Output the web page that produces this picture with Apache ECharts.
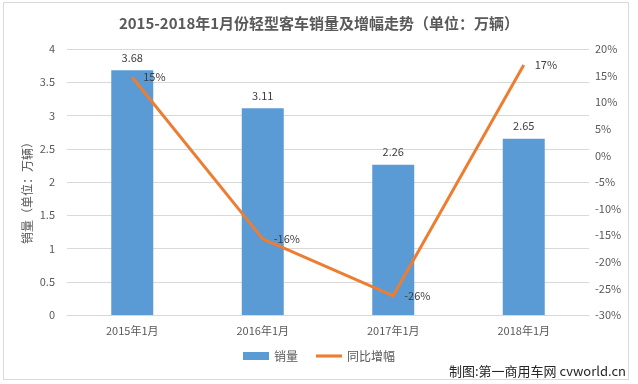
<!DOCTYPE html>
<html><head><meta charset="utf-8">
<script src="https://cdn.jsdelivr.net/npm/echarts@6/dist/echarts.min.js"></script>
<style>html,body{margin:0;padding:0;background:#fff}#c{width:638px;height:384px}</style>
</head><body><div id="c"></div>
<script>
var categories = ['2015年1月', '2016年1月', '2017年1月', '2018年1月'];
var sales = [3.68, 3.11, 2.26, 2.65];
var growth = [14.7, -15.7, -26.4, 17.0];
var leftTicks = [0, 0.5, 1, 1.5, 2, 2.5, 3, 3.5, 4];
var rightTicks = [-30, -25, -20, -15, -10, -5, 0, 5, 10, 15, 20];
var leftAxisName = '销量（单位：万辆）';

var font = 'Microsoft YaHei, "Noto Sans CJK SC", sans-serif';
var chart = echarts.init(document.getElementById('c'));
chart.setOption({
  animation: false,
  textStyle: {fontFamily: font},
  title: {text: '2015-2018年1月份轻型客车销量及增幅走势（单位：万辆）', left: 'center', top: 11,
    textStyle: {fontSize: 15, fontWeight: 'bold', color: '#595959', fontFamily: font}},
  grid: {left: 67, right: 49, top: 49, bottom: 69},
  legend: {bottom: 17, left: 'center', itemWidth: 26, itemHeight: 8, itemGap: 18,
    textStyle: {fontSize: 12, color: '#595959'},
    data: [{name: '销量', icon: 'rect'},
           {name: '同比增幅', icon: 'path://M0,0L100,0L100,12L0,12Z', itemStyle: {color: '#ED7D31'}}]},
  xAxis: {type: 'category', data: categories,
    axisLine: {lineStyle: {color: '#D9D9D9'}}, axisTick: {show: false},
    axisLabel: {color: '#595959', fontSize: 11, margin: 10}},
  yAxis: [
    {type: 'value', min: leftTicks[0], max: leftTicks[leftTicks.length - 1], interval: 0.5,
     axisLabel: {color: '#595959', fontSize: 11, margin: 12},
     splitLine: {lineStyle: {color: '#D9D9D9'}}, axisLine: {show: false}, axisTick: {show: false}},
    {type: 'value', min: rightTicks[0], max: rightTicks[rightTicks.length - 1], interval: 5,
     axisLabel: {color: '#595959', fontSize: 11, formatter: '{value}%', margin: 6},
     splitLine: {show: false}, axisLine: {show: false}, axisTick: {show: false}}
  ],
  series: [
    {name: '销量', type: 'bar', data: sales, barWidth: 42, itemStyle: {color: '#5B9BD5'},
     label: {show: true, position: 'top', color: '#404040', fontSize: 11, distance: 7}},
    {name: '同比增幅', type: 'line', yAxisIndex: 1, data: growth, symbol: 'circle', symbolSize: 0,
     lineStyle: {color: '#ED7D31', width: 3}, itemStyle: {color: '#ED7D31'},
     label: {show: true, position: 'right', color: '#404040', fontSize: 11, distance: 11,
       formatter: function (p) { return Math.round(p.value) + '%'; }}}
  ],
  graphic: [
    {type: 'rect', shape: {x: 3.5, y: 2.5, width: 625, height: 377}, style: {fill: 'none', stroke: '#D9D9D9', lineWidth: 1}, z: -1},
    {type: 'text', x: 27, y: 190, rotation: Math.PI / 2,
     style: {text: leftAxisName, fill: '#595959', fontSize: 12, fontFamily: font, align: 'center', verticalAlign: 'middle'}},
    {type: 'text', right: 12, bottom: 6, style: {text: '制图:第一商用车网 cvworld.cn', fill: '#262626', fontSize: 13, fontFamily: font}}
  ]
});
</script></body></html>
